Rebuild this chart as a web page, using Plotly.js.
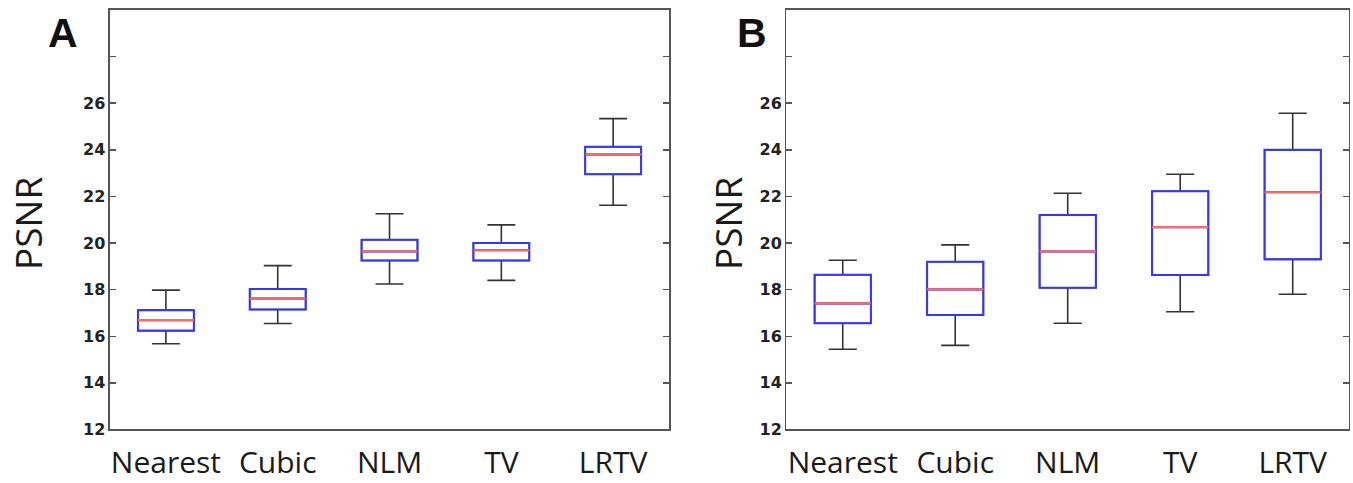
<!DOCTYPE html>
<html>
<head>
<meta charset="utf-8">
<script src="https://cdn.plot.ly/plotly-3.0.1.min.js"></script>
<style>html,body{margin:0;padding:0;background:#fff;}#chart{width:1353px;height:483px;}</style>
</head>
<body>
<div id="chart"></div>
<script>
// Categories and tick labels
var methods = ['Nearest', 'Cubic', 'NLM', 'TV', 'LRTV'];
var yTickVals = [12, 14, 16, 18, 20, 22, 24, 26, 28];
var yTickText = ['12', '14', '16', '18', '20', '22', '24', '26', ''];

// Panel A box statistics (PSNR)
var aLower  = [15.68, 16.55, 18.24, 18.40, 21.62];
var aQ1     = [16.24, 17.15, 19.25, 19.25, 22.95];
var aMedian = [16.69, 17.62, 19.64, 19.69, 23.80];
var aQ3     = [17.12, 18.03, 20.14, 20.00, 24.13];
var aUpper  = [17.98, 19.03, 21.26, 20.78, 25.34];

// Panel B box statistics (PSNR)
var bLower  = [15.44, 15.61, 16.56, 17.05, 17.80];
var bQ1     = [16.56, 16.91, 18.08, 18.63, 19.30];
var bMedian = [17.41, 18.01, 19.64, 20.68, 22.18];
var bQ3     = [18.64, 19.20, 21.20, 22.22, 24.00];
var bUpper  = [19.26, 19.92, 22.14, 22.95, 25.57];

function panelTraces(lower, q1, med, q3, upper, xa, ya) {
  var common = {type: 'box', x: methods, xaxis: xa, yaxis: ya, width: 0.5,
                boxpoints: false, hoverinfo: 'skip', showlegend: false};
  var whiskers = Object.assign({}, common, {
    q1: q1, median: med, q3: q3, lowerfence: lower, upperfence: upper,
    whiskerwidth: 0.5, fillcolor: 'rgba(255,255,255,0)',
    line: {color: '#333333', width: 1.6}
  });
  var boxes = Object.assign({}, common, {
    q1: q1, median: med, q3: q3, lowerfence: q1, upperfence: q3,
    whiskerwidth: 0, fillcolor: 'rgba(255,255,255,0)',
    line: {color: '#3535ff', width: 2}
  });
  var medians = Object.assign({}, common, {
    q1: med, median: med, q3: med, lowerfence: med, upperfence: med,
    whiskerwidth: 0, fillcolor: 'rgba(255,255,255,0)',
    line: {color: '#ff6a6a', width: 2.2}
  });
  return [whiskers, boxes, medians];
}

var data = panelTraces(aLower, aQ1, aMedian, aQ3, aUpper, 'x', 'y')
  .concat(panelTraces(bLower, bQ1, bMedian, bQ3, bUpper, 'x2', 'y2'));

var lineCol = '#555555';
var xCommon = {
  type: 'category', range: [-0.5, 4.5], showline: true, linecolor: lineCol, linewidth: 1.5,
  mirror: true, ticks: '', showgrid: false, zeroline: false, automargin: false,
  ticklabelstandoff: 6,
  tickfont: {family: 'Open Sans, Noto Sans, sans-serif', size: 30, color: '#1a1a1a'}
};
var yCommon = {
  range: [12, 30], tickvals: yTickVals, ticktext: yTickText, ticks: 'inside', ticklen: 6,
  tickcolor: lineCol, tickwidth: 1.5, showline: true, linecolor: lineCol, linewidth: 1.5,
  mirror: 'ticks', showgrid: false, zeroline: false, automargin: false,
  tickfont: {family: 'DejaVu Sans, Liberation Sans, sans-serif', size: 16, color: '#222', weight: 'bold'}
};

var layout = {
  width: 1353, height: 483,
  margin: {l: 0, r: 0, t: 0, b: 0},
  paper_bgcolor: '#fff', plot_bgcolor: '#fff',
  boxmode: 'overlay', showlegend: false,
  xaxis: Object.assign({}, xCommon, {domain: [0.0813, 0.4945], anchor: 'y'}),
  yaxis: Object.assign({}, yCommon, {domain: [0.1108, 0.9793], anchor: 'x'}),
  xaxis2: Object.assign({}, xCommon, {domain: [0.5813, 0.997], anchor: 'y2'}),
  yaxis2: Object.assign({}, yCommon, {domain: [0.1108, 0.9793], anchor: 'x2'}),
  annotations: [
    {text: 'PSNR', textangle: -90, xref: 'paper', yref: 'paper', x: 27/1353, y: 1 - 224/483,
     xanchor: 'center', yanchor: 'middle', showarrow: false,
     font: {family: 'Open Sans, Noto Sans, sans-serif', size: 37, color: '#1a1a1a'}},
    {text: 'PSNR', textangle: -90, xref: 'paper', yref: 'paper', x: 727/1353, y: 1 - 224/483,
     xanchor: 'center', yanchor: 'middle', showarrow: false,
     font: {family: 'Open Sans, Noto Sans, sans-serif', size: 37, color: '#1a1a1a'}},
    {text: '<b>A</b>', xref: 'paper', yref: 'paper', x: 62.5/1353, y: 1 - 33/483,
     xanchor: 'center', yanchor: 'middle', showarrow: false,
     font: {family: 'Liberation Sans, Arial, sans-serif', size: 41, color: '#111'}},
    {text: '<b>B</b>', xref: 'paper', yref: 'paper', x: 752/1353, y: 1 - 33/483,
     xanchor: 'center', yanchor: 'middle', showarrow: false,
     font: {family: 'Liberation Sans, Arial, sans-serif', size: 41, color: '#111'}}
  ]
};

Plotly.newPlot('chart', data, layout, {staticPlot: true, displayModeBar: false});
</script>
</body>
</html>
